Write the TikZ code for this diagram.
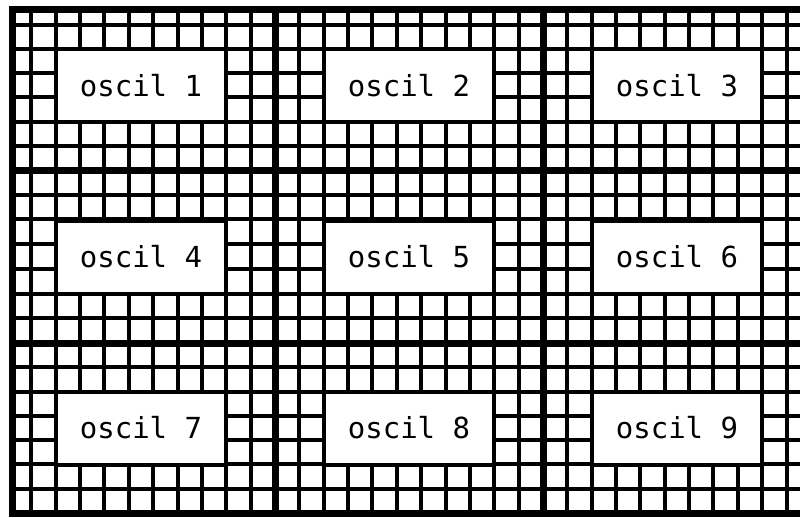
\documentclass[tikz,border=0pt]{standalone}
\usepackage{fontspec}
\newfontfamily\oscfont{DejaVu Sans Mono}

\begin{document}
\begin{tikzpicture}[x=1pt, y=-1pt,
        thingrid/.style={line width=4pt},
        thickgrid/.style={line width=7pt},
        oscbox/.style={draw, line width=4pt, fill=white, inner sep=0pt,
            minimum width=170.5pt, minimum height=73pt,
            font=\oscfont\fontsize{29}{31}\selectfont}]
                \useasboundingbox (0,0) rectangle (800,517);
                \clip (0,0) rectangle (800,517);
                % thin grid lines
                \foreach \k in {0,...,31}
                    \draw[thingrid] ({31.4+\k*24.36},9) -- ({31.4+\k*24.36},513);
                \foreach \j in {1,...,6}{
                    \draw[thingrid] (12,{170-\j*24.2}) -- (810,{170-\j*24.2});
                    \draw[thingrid] (12,{170+\j*24.71}) -- (810,{170+\j*24.71});
                    \draw[thingrid] (12,{343+\j*24.29}) -- (810,{343+\j*24.29});
                }
                % block borders
                \draw[thickgrid] (275,9) -- (275,513);
                \draw[thickgrid] (543,9) -- (543,513);
                \draw[thickgrid] (12,170) -- (810,170);
                \draw[thickgrid] (12,343) -- (810,343);
                \draw[thickgrid] (810,9.5) -- (12,9.5) -- (12,513.5) -- (810,513.5);
                % oscillator boxes
                \foreach \n/\x/\y in {1/141/85.3, 2/409/85.3, 3/677/85.3,
                                      4/141/257, 5/409/257, 6/677/257,
                                      7/141/428, 8/409/428, 9/677/428}
                    \node[oscbox] (osc\n) at (\x,\y) {oscil \n};
            \end{tikzpicture}
\end{document}
